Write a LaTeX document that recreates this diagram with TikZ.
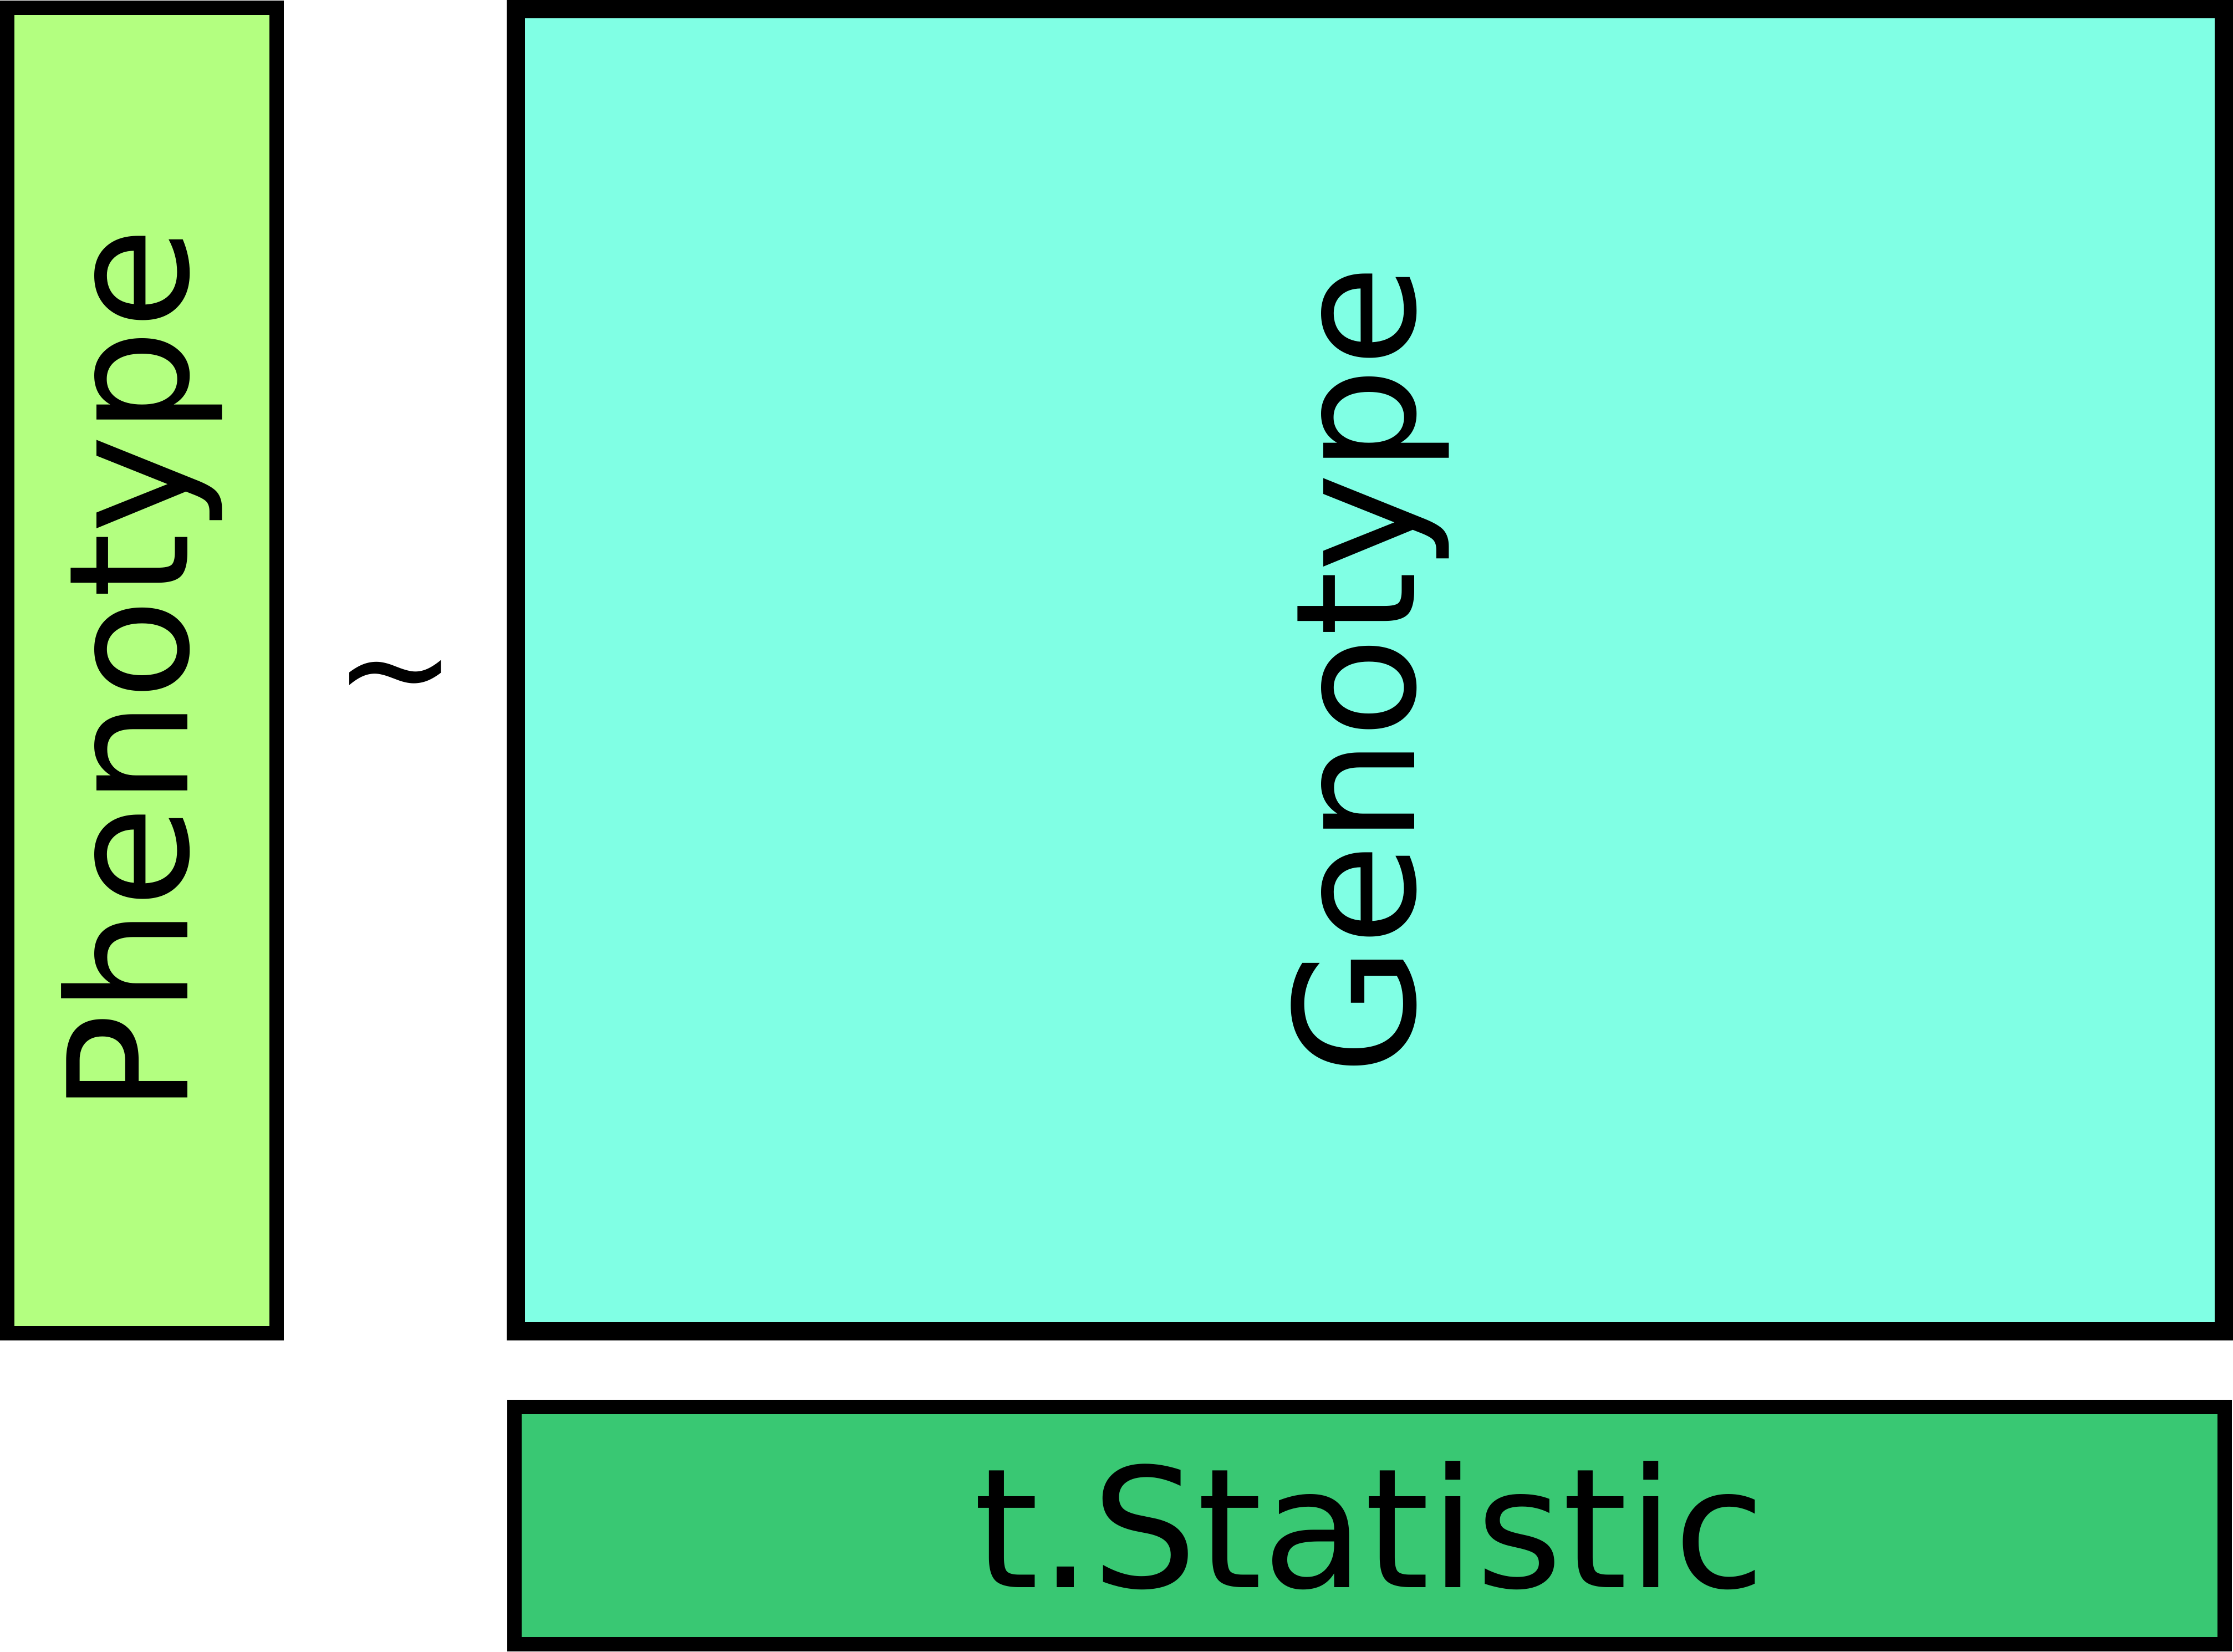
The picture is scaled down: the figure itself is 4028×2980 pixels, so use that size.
\documentclass[tikz,border=0pt]{standalone}
\usepackage{fontspec}
\setmainfont{DejaVu Sans}
\definecolor{phenocol}{HTML}{B3FF80}
\definecolor{genocol}{HTML}{80FFE4}
\definecolor{tstatcol}{HTML}{39C873}
\begin{document}
\begin{tikzpicture}[x=0.1pt,y=-0.1pt,
  panel/.style={draw=black, rectangle, inner sep=0pt, outer sep=0pt},
  lbl/.style={inner sep=0pt, font=\fontsize{30pt}{36pt}\selectfont}]
\useasboundingbox (0,0) rectangle (4028,2980);
\node[panel, fill=phenocol, line width=2.6pt, minimum width=48.6pt, minimum height=239.1pt] (pheno) at (256,1209.5) {};
\node[lbl, rotate=90] (phenolabel) at (pheno.center) {Phenotype};
\node[panel, fill=genocol, line width=3.3pt, minimum width=308.1pt, minimum height=238.5pt] (geno) at (2471,1209) {};
\node[lbl, rotate=90] (genolabel) at (geno.center) {Genotype};
\node[panel, fill=tstatcol, line width=2.6pt, minimum width=308.6pt, minimum height=42.8pt] (tstat) at (2470.5,2752) {};
\node[lbl] (tstatlabel) at (tstat.center) {t.Statistic};
\node[inner sep=0pt, font=\fontsize{26.4pt}{32pt}\selectfont] (tilde) at (713,1244) {\~{}};
\end{tikzpicture}
\end{document}
